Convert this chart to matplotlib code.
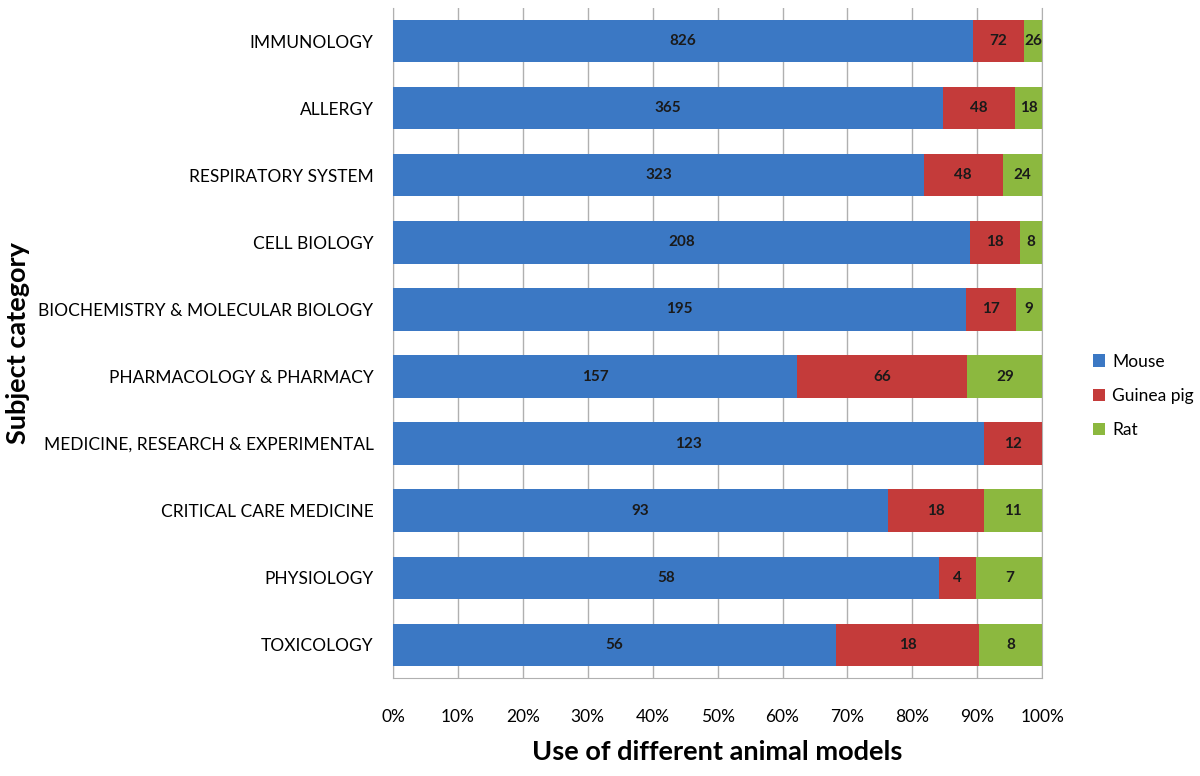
import matplotlib
matplotlib.use("Agg")
import matplotlib.pyplot as plt
import numpy as np

plt.rcParams['font.family'] = ['Lato', 'DejaVu Sans']

# categories from top to bottom
categories = ["IMMUNOLOGY", "ALLERGY", "RESPIRATORY SYSTEM", "CELL BIOLOGY",
              "BIOCHEMISTRY & MOLECULAR BIOLOGY", "PHARMACOLOGY & PHARMACY",
              "MEDICINE, RESEARCH & EXPERIMENTAL", "CRITICAL CARE MEDICINE",
              "PHYSIOLOGY", "TOXICOLOGY"]
mouse = [826, 365, 323, 208, 195, 157, 123, 93, 58, 56]
guinea_pig = [72, 48, 48, 18, 17, 66, 12, 18, 4, 18]
rat = [26, 18, 24, 8, 9, 29, 0, 11, 7, 8]
series_names = ["Mouse", "Guinea pig", "Rat"]
colors = ["#3b78c4", "#c43b3a", "#8cb83f"]
xticks = np.arange(0, 101, 10)

counts = np.array([mouse, guinea_pig, rat], dtype=float)
pct = counts / counts.sum(axis=0) * 100
y = np.arange(len(categories))

fig = plt.figure(figsize=(12, 7.76), dpi=100)
ax = fig.add_axes([0.3275, 0.126, 0.541, 0.864])

left = np.zeros(len(categories))
for i in range(3):
    bars = ax.barh(y, pct[i], left=left, height=0.63, color=colors[i],
                   label=series_names[i], zorder=3)
    for j, b in enumerate(bars):
        if counts[i, j] > 0:
            ax.text(left[j] + pct[i, j] / 2, y[j], str(int(counts[i, j])),
                    ha='center', va='center', fontsize=11, fontweight='bold',
                    color='#1a1a1a', zorder=4)
    left += pct[i]

ax.set_xlim(0, 100)
ax.set_ylim(len(categories) - 0.5, -0.5)
ax.set_yticks(y)
ax.set_yticklabels(categories, fontsize=12.5)
ax.set_xticks(xticks)
ax.set_xticklabels([f"{t}%" for t in xticks], fontsize=12.5)
ax.tick_params(axis='y', length=0, pad=14)
ax.tick_params(axis='x', length=0, pad=22)
ax.xaxis.grid(True, color='#b0b0b0', linewidth=1, zorder=0)

ax.spines['top'].set_visible(False)
for s in ['left', 'right', 'bottom']:
    ax.spines[s].set_color('#b0b0b0')

ax.set_xlabel("Use of different animal models", fontsize=19.5, fontweight='bold', labelpad=11)
fig.text(0.015, 0.558, "Subject category", rotation=90, fontsize=19.5,
         fontweight='bold', ha='center', va='center')

fig.legend(loc='center left', bbox_to_anchor=(0.898, 0.49), frameon=False,
           fontsize=12.5, handlelength=0.7, handleheight=0.7, handletextpad=0.4,
           labelspacing=1.05)

fig.savefig("out.png", dpi=100)
